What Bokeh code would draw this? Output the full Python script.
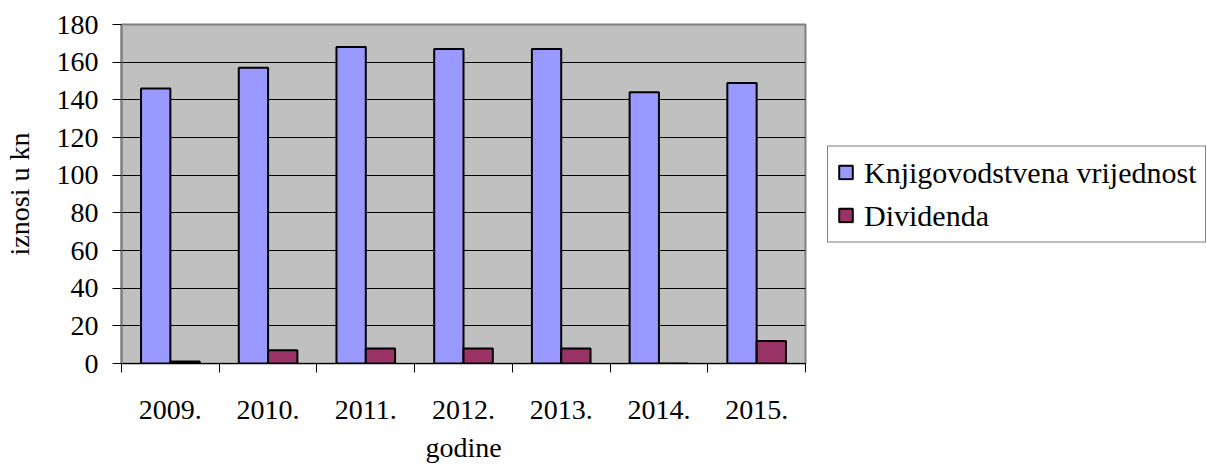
from bokeh.plotting import figure
from bokeh.models import (Range1d, FixedTicker, Legend, LegendItem, ColumnDataSource)
from bokeh.transform import dodge
from bokeh.embed import file_html
from bokeh.resources import INLINE

years = ["2009.", "2010.", "2011.", "2012.", "2013.", "2014.", "2015."]
knjig = [146, 157, 168, 167, 167, 144, 149]
divid = [1, 7, 8, 8, 8, 0, 12]
series_names = ["Knjigovodstvena vrijednost", "Dividenda"]
y_ticks = [0, 20, 40, 60, 80, 100, 120, 140, 160, 180]

FONT = "Liberation Serif"
FS = "28px"

# category slots: one unit per year, label at the slot centre
centres = [i + 0.5 for i in range(len(years))]
bounds = list(range(len(years) + 1))

src = ColumnDataSource(dict(xc=centres, year=years, knjig=knjig, divid=divid))

p = figure(x_range=Range1d(0, len(years)),
           y_range=Range1d(0, 180),
           frame_width=684, frame_height=339,
           min_border_left=119, min_border_top=24, min_border_right=20,
           min_border_bottom=112,
           output_backend="svg", toolbar_location=None)

p.background_fill_color = "#C0C0C0"
p.border_fill_color = "white"
p.outline_line_color = "#808080"
p.outline_line_width = 2

r1 = p.vbar(x=dodge("xc", -0.15), top="knjig", width=0.3,
            source=src, fill_color="#9999FF", line_color="black", line_width=2)
r2 = p.vbar(x=dodge("xc", 0.15), top="divid", width=0.3,
            source=src, fill_color="#993366", line_color="black", line_width=2)

# y axis
ya = p.yaxis[0]
ya.ticker = FixedTicker(ticks=y_ticks)
ya.axis_line_color = "#808080"
ya.axis_line_width = 2
ya.major_tick_out = 9
ya.major_tick_in = 0
ya.major_tick_line_color = "black"
ya.minor_tick_line_color = None
ya.major_label_text_font = FONT
ya.major_label_text_font_size = FS
ya.major_label_text_color = "black"
ya.major_label_standoff = 14
ya.axis_label = "iznosi u kn"
ya.axis_label_text_font = FONT
ya.axis_label_text_font_size = FS
ya.axis_label_text_font_style = "normal"
ya.axis_label_text_color = "black"
ya.axis_label_standoff = 19

# x axis: labels at category centres, ticks at category boundaries
xa = p.xaxis[0]
xa.ticker = FixedTicker(ticks=centres, minor_ticks=bounds)
xa.major_label_overrides = {c: y for c, y in zip(centres, years)}
xa.axis_line_color = "black"
xa.axis_line_width = 1
xa.major_tick_line_color = None
xa.minor_tick_out = 9
xa.minor_tick_in = 0
xa.minor_tick_line_color = "black"
xa.major_label_text_font = FONT
xa.major_label_text_font_size = FS
xa.major_label_text_color = "black"
xa.major_label_standoff = 28
xa.axis_label = "godine"
xa.axis_label_text_font = FONT
xa.axis_label_text_font_size = FS
xa.axis_label_text_font_style = "normal"
xa.axis_label_text_color = "black"
xa.axis_label_standoff = 10

p.xgrid.visible = False
p.ygrid.ticker = FixedTicker(ticks=y_ticks)
p.ygrid.grid_line_color = "black"
p.ygrid.grid_line_width = 1

legend = Legend(items=[LegendItem(label=series_names[0], renderers=[r1]),
                       LegendItem(label=series_names[1], renderers=[r2])],
                location="left")
legend.label_text_font = FONT
legend.label_text_font_size = "30px"
legend.label_text_color = "black"
legend.glyph_width = 17
legend.glyph_height = 17
legend.label_standoff = 10
legend.spacing = 9
legend.padding = 9
legend.margin = 22
legend.border_line_color = "black"
legend.border_line_width = 1
legend.background_fill_color = "white"
legend.background_fill_alpha = 1
p.add_layout(legend, "right")

open("out.html", "w").write(file_html(p, INLINE))
